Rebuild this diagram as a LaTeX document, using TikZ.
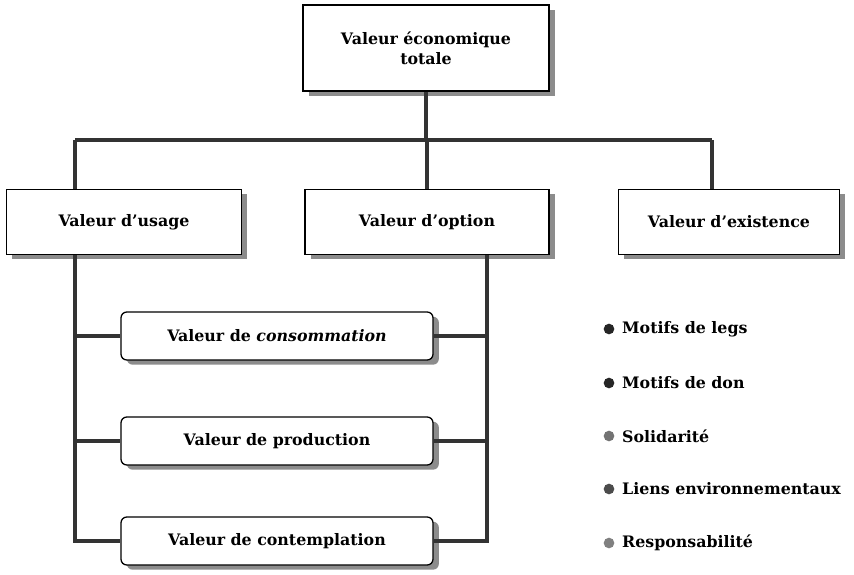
\documentclass[tikz,border=0pt]{standalone}
\usepackage{fontspec}
\setmainfont{DejaVu Serif}
\usetikzlibrary{positioning,shadows}

\begin{document}
\begin{tikzpicture}[x=0.03cm,y=-0.03cm,
	valbox/.style={rectangle,draw=black,fill=white,line width=1.1pt,inner sep=0pt,align=center,
		drop shadow={shadow xshift=5pt,shadow yshift=-4pt,fill=black!45,opacity=1},
		font=\fontsize{13.5}{17}\selectfont\bfseries},
	subbox/.style={valbox,rounded corners=5pt,minimum width=9.36cm,minimum height=1.44cm},
	legdot/.style={circle,fill=black!85,inner sep=0pt,minimum size=0.32cm},
	legtext/.style={anchor=west,inner sep=0pt,font=\fontsize{13.5}{17}\selectfont\bfseries},
	conn/.style={line width=2.6pt,black!80}]
		\useasboundingbox (0,0) rectangle (854,574);
		% top row
		\node[valbox,minimum width=7.38cm,minimum height=2.58cm] (total) at (426,48) {Valeur économique\\totale};
		\node[valbox,minimum width=7.05cm,minimum height=1.95cm] (usage) at (124,222) {Valeur d'usage};
		\node[valbox,minimum width=7.32cm,minimum height=1.95cm] (option) at (427,222) {Valeur d'option};
		\node[valbox,minimum width=6.63cm,minimum height=1.95cm] (existence) at (729,222) {Valeur d'existence};
		% usage values
		\node[subbox] (consommation) at (277,336) {Valeur de \textit{consommation}};
		\node[subbox] (production) at (277,441) {Valeur de production};
		\node[subbox] (contemplation) at (277,541) {Valeur de contemplation};
		% legend
		\node[legdot] (d1) at (609,329) {};
		\node[legdot] (d2) at (609,383) {};
		\node[legdot,fill=black!55] (d3) at (609,436) {};
		\node[legdot,fill=black!70] (d4) at (609,489) {};
		\node[legdot,fill=black!50] (d5) at (609,543) {};
		\node[legtext] (legs) at (622,329) {Motifs de legs};
		\node[legtext] (don) at (622,383) {Motifs de don};
		\node[legtext] (solid) at (622,436) {Solidarité};
		\node[legtext] (liens) at (622,489) {Liens environnementaux};
		\node[legtext] (resp) at (622,543) {Responsabilité};
		% connectors
		\coordinate (busL) at (75,140);
		\coordinate (busR) at (712,140);
		\coordinate (spL) at (75,300);
		\coordinate (spR) at (487,300);
		\draw[conn] (total.south) -- (total.south |- busL);
		\draw[conn] (busL) -- (busR);
		\draw[conn] (busL) -- (busL |- usage.north);
		\draw[conn] (option.north |- busL) -- (option.north);
		\draw[conn] (busR) -- (busR |- existence.north);
		\draw[conn] (spL |- usage.south) |- (contemplation.west);
		\draw[conn] (spL |- consommation.west) -- (consommation.west);
		\draw[conn] (spL |- production.west) -- (production.west);
		\draw[conn] (spR |- option.south) |- (contemplation.east);
		\draw[conn] (spR |- consommation.east) -- (consommation.east);
		\draw[conn] (spR |- production.east) -- (production.east);
	\end{tikzpicture}
\end{document}
